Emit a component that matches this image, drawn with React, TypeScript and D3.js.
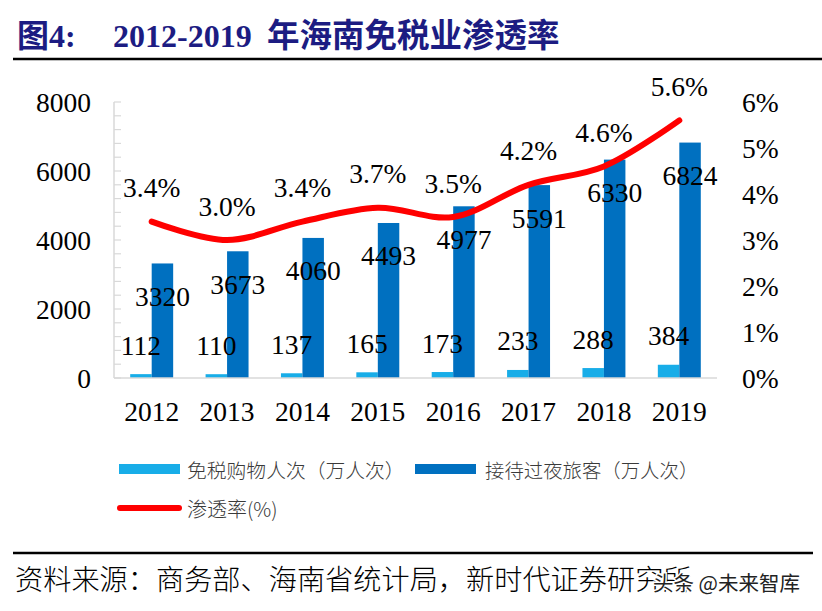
import React from "react";
import * as d3 from "d3";

const years = ["2012", "2013", "2014", "2015", "2016", "2017", "2018", "2019"];
const dutyFreeVisits = [112, 110, 137, 165, 173, 233, 288, 384];
const overnightTourists = [3320, 3673, 4060, 4493, 4977, 5591, 6330, 6824];
const penetration = [3.4, 3.0, 3.4, 3.7, 3.5, 4.2, 4.6, 5.6];
const leftTicks = [0, 2000, 4000, 6000, 8000];
const rightTicks = [0, 1, 2, 3, 4, 5, 6];
const seriesNames = ["免税购物人次（万人次）", "接待过夜旅客（万人次）", "渗透率(%)"];

const W = 822;
const H = 611;
const SERIF = "'Liberation Serif', 'Times New Roman', serif";
const CJK = "'Noto Sans CJK SC', sans-serif";
const LIGHT = "#18ADE8";
const DARK = "#0070C0";
const RED = "#FF0000";

export default function App() {
  const x = d3.scaleBand<string>().domain(years).range([114, 717]).paddingInner(0.43).paddingOuter(0.215);
  const sub = d3.scaleBand<string>().domain(["a", "b"]).range([0, x.bandwidth()]);
  const y = d3.scaleLinear().domain([0, 8000]).range([378, 102]);
  const yr = d3.scaleLinear().domain([0, 6]).range([378, 102]);
  const cx = (c: string) => (x(c) as number) + x.bandwidth() / 2;
  const minorTicks = d3.range(0, 8001, 400);
  const line = d3
    .line<number>()
    .x((_, i) => cx(years[i]))
    .y((d) => yr(d))
    .curve(d3.curveCatmullRom.alpha(0.5));
  const fs = 27.5;

  return (
    <svg width={W} height={H} style={{ position: "absolute", left: 0, top: 0, background: "#fff" }}>
      <rect x={0} y={0} width={W} height={H} fill="#fff" />
      {/* Title */}
      <text x={17} y={47} fill="#1C1C82" fontWeight="bold" fontSize={32}>
        <tspan fontFamily={CJK}>图</tspan>
        <tspan fontFamily={SERIF}>4:</tspan>
      </text>
      <text x={113} y={47} fill="#1C1C82" fontWeight="bold" fontSize={32} fontFamily={SERIF}>
        2012-2019
      </text>
      <text x={267} y={47} fill="#1C1C82" fontWeight="bold" fontSize={32.5} fontFamily={CJK}>
        年海南免税业渗透率
      </text>
      <line x1={13} x2={822} y1={59} y2={59} stroke="#000" strokeWidth={2.5} />

      {/* Left axis */}
      <line x1={114} x2={114} y1={102} y2={378} stroke="#D9D9D9" strokeWidth={1.5} />
      {minorTicks.map((t) => (
        <line key={t} x1={114} x2={121} y1={y(t)} y2={y(t)} stroke="#D9D9D9" strokeWidth={1.2} />
      ))}
      {leftTicks.map((t) => (
        <text key={t} x={91} y={y(t) + 9.5} textAnchor="end" fontFamily={SERIF} fontSize={fs} fill="#000">
          {t}
        </text>
      ))}
      {rightTicks.map((t) => (
        <text key={t} x={742} y={yr(t) + 9.5} textAnchor="start" fontFamily={SERIF} fontSize={fs} fill="#000">
          {t}%
        </text>
      ))}

      {/* Bars */}
      {years.map((c, i) => (
        <g key={c}>
          <rect
            x={(x(c) as number) + (sub("a") as number)}
            y={y(dutyFreeVisits[i])}
            width={sub.bandwidth()}
            height={378 - y(dutyFreeVisits[i])}
            fill={LIGHT}
          />
          <rect
            x={(x(c) as number) + (sub("b") as number)}
            y={y(overnightTourists[i])}
            width={sub.bandwidth()}
            height={378 - y(overnightTourists[i])}
            fill={DARK}
          />
        </g>
      ))}
      <line x1={114} x2={717} y1={378} y2={378} stroke="#D9D9D9" strokeWidth={1.5} />

      {/* Line */}
      <path d={line(penetration) as string} fill="none" stroke={RED} strokeWidth={6} strokeLinecap="round" strokeLinejoin="round" />

      {/* Labels */}
      {years.map((c, i) => (
        <g key={"l" + c} fontFamily={SERIF} fontSize={fs} fill="#000" textAnchor="middle">
          <text x={(x(c) as number) + (sub("a") as number) + sub.bandwidth() / 2} y={y(dutyFreeVisits[i]) - 29 + 9.5}>
            {dutyFreeVisits[i]}
          </text>
          <text x={(x(c) as number) + (sub("b") as number) + sub.bandwidth() / 2} y={y(overnightTourists[i]) + 33 + 9.5}>
            {overnightTourists[i]}
          </text>
          <text x={cx(c)} y={yr(penetration[i]) - 34 + 9.5}>
            {penetration[i].toFixed(1)}%
          </text>
          <text x={cx(c)} y={421}>
            {c}
          </text>
        </g>
      ))}

      {/* Legend */}
      <rect x={119} y={464} width={61} height={10} fill={LIGHT} />
      <text x={187} y={469} dominantBaseline="central" fontFamily={CJK} fontWeight={300} fontSize={19.8} fill="#3a3a3a">
        {seriesNames[0]}
      </text>
      <rect x={415} y={464} width={61} height={10} fill={DARK} />
      <text x={485} y={469} dominantBaseline="central" fontFamily={CJK} fontWeight={300} fontSize={19.4} fill="#3a3a3a">
        {seriesNames[1]}
      </text>
      <line x1={120} x2={179} y1={508} y2={508} stroke={RED} strokeWidth={6} strokeLinecap="round" />
      <text x={187} y={508} dominantBaseline="central" fontFamily={CJK} fontWeight={300} fontSize={20} fill="#3a3a3a">
        {seriesNames[2]}
      </text>

      {/* Footer */}
      <line x1={13} x2={813} y1={553} y2={553} stroke="#000" strokeWidth={2.5} />
      <text x={15} y={577} dominantBaseline="central" fontFamily={CJK} fontWeight={300} fontSize={28.2} fill="#000">
        资料来源：商务部、海南省统计局，新时代证券研究所
      </text>
      <text
        x={653}
        y={582}
        dominantBaseline="central"
        fontFamily={CJK}
        fontSize={20.5}
        fill="#222"
        stroke="#fff"
        strokeWidth={3}
        paintOrder="stroke"
      >
        头条 @未来智库
      </text>
    </svg>
  );
}
